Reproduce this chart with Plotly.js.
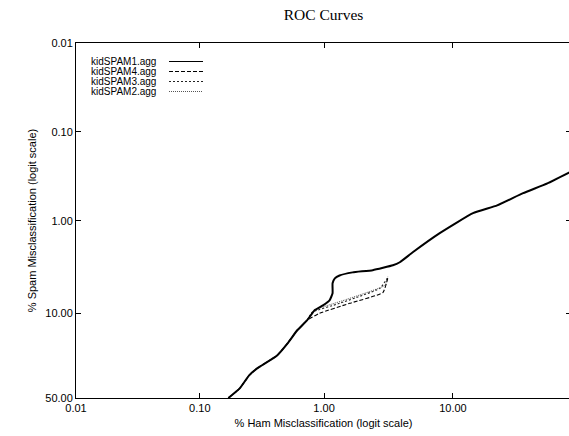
<!DOCTYPE html>
<html>
<head>
<meta charset="utf-8">
<script src="https://cdn.plot.ly/plotly-3.0.1.min.js"></script>
<style>
html,body{margin:0;padding:0;overflow:hidden;background:#fff;}
#chart{width:580px;height:436px;}
</style>
</head>
<body>
<div id="chart"></div>
<script>
// ---- data (percent values) ----
const seriesNames = ["kidSPAM1.agg", "kidSPAM4.agg", "kidSPAM3.agg", "kidSPAM2.agg"];

const lowHam  = [0.17, 0.21, 0.25, 0.29, 0.42, 0.51, 0.61, 0.73];
const lowSpam = [50, 43.8, 35.7, 31.7, 24.9, 19.5, 14.7, 11.8];

const ham1  = [0.17, 0.21, 0.25, 0.29, 0.42, 0.51, 0.61, 0.73, 0.84, 0.98, 1.11, 1.17, 1.17, 1.22, 1.33, 1.69, 2.44, 3.51, 3.97, 5.0, 8.0, 13.9, 20.2, 29.1, 39.2, 50.0];
const spam1 = [50, 43.8, 35.7, 31.7, 24.9, 19.5, 14.7, 11.8, 9.3, 8.3, 7.3, 6.2, 4.85, 4.3, 4.0, 3.7, 3.5, 3.1, 2.87, 2.23, 1.37, 0.82, 0.67, 0.49, 0.38, 0.28];

const ham4tail  = [0.92, 1.60, 2.93, 3.20];
const spam4tail = [10.0, 7.9, 6.1, 4.3];
const ham3tail  = [0.80, 1.33, 2.77, 3.20];
const spam3tail = [9.8, 7.9, 5.5, 4.2];
const ham2tail  = [0.84, 1.46, 3.04, 3.20];
const spam2tail = [9.3, 7.3, 5.1, 4.1];

const tickPercents = [0.01, 0.1, 1, 10, 50];
const xTickLabels = ["0.01", "0.10", "1.00", "10.00", "50.00"];
const yTickLabels = ["0.01", "0.10", "1.00", "10.00", "50.00"];

// ---- helpers ----
const logit = p => Math.log((p / 100) / (1 - p / 100));
const L = arr => arr.map(logit);

const ham4 = lowHam.concat(ham4tail), spam4 = lowSpam.concat(spam4tail);
const ham3 = lowHam.concat(ham3tail), spam3 = lowSpam.concat(spam3tail);
const ham2 = lowHam.concat(ham2tail), spam2 = lowSpam.concat(spam2tail);

const styles = [
  {color: "#000000", width: 2.0, dash: "solid"},
  {color: "#000000", width: 1.1, dash: "4px,2px"},
  {color: "#222222", width: 1.1, dash: "2px,2px"},
  {color: "#555555", width: 1.0, dash: "1px,1px"}
];
const xs = [ham1, ham4, ham3, ham2];
const ys = [spam1, spam4, spam3, spam2];

// draw dashed ones first, main on top
const order = [3, 2, 1, 0];
const traces = order.map(i => ({
  x: L(xs[i]), y: L(ys[i]), type: "scatter", mode: "lines",
  name: seriesNames[i], showlegend: false,
  line: {color: styles[i].color, width: styles[i].width, dash: styles[i].dash, shape: "spline", smoothing: 0.4},
  hoverinfo: "skip"
}));

// ---- manual gnuplot-style legend (text left, sample right) ----
const plotL = 76, plotW = 495, plotB = 398, plotH = 355;
const px2x = px => (px - plotL) / plotW;
const py2y = py => (plotB - py) / plotH;
const legendRows = [61.5, 71.5, 81.5, 91.5];
const annotations = [], shapes = [];
seriesNames.forEach((n, i) => {
  annotations.push({
    text: n, xref: "paper", yref: "paper", x: px2x(89), y: py2y(legendRows[i]),
    xanchor: "left", yanchor: "middle", showarrow: false,
    font: {family: "Liberation Sans, Arial, sans-serif", size: 10, color: "#000"}
  });
  shapes.push({
    type: "line", xref: "paper", yref: "paper",
    x0: px2x(169), x1: px2x(203), y0: py2y(legendRows[i]), y1: py2y(legendRows[i]),
    line: {color: styles[i].color, width: 1, dash: styles[i].dash}
  });
});

const tickFont = {family: "Liberation Sans, Arial, sans-serif", size: 11, color: "#000"};

const layout = {
  width: 580, height: 436,
  margin: {l: 76, r: 9, t: 43, b: 38},
  paper_bgcolor: "#fff", plot_bgcolor: "#fff",
  showlegend: false,
  title: {
    text: "ROC Curves", x: 0.5, xref: "paper", xanchor: "center",
    y: 1 - 15 / 436, yref: "container", yanchor: "middle",
    font: {family: "Liberation Serif, Times New Roman, serif", size: 15.5, color: "#000"}
  },
  xaxis: {
    range: [logit(0.01), logit(50)],
    tickvals: L(tickPercents), ticktext: xTickLabels,
    ticks: "inside", ticklen: 5, tickwidth: 1, tickcolor: "#000",
    showline: true, linecolor: "#000", linewidth: 1, mirror: "ticks",
    showgrid: false, zeroline: false, tickfont: tickFont,
    title: {text: "% Ham Misclassification (logit scale)", font: tickFont, standoff: 6}
  },
  yaxis: {
    range: [logit(50), logit(0.01)],
    tickvals: L(tickPercents), ticktext: yTickLabels,
    ticks: "inside", ticklen: 5, tickwidth: 1, tickcolor: "#000",
    showline: true, linecolor: "#000", linewidth: 1, mirror: "ticks",
    showgrid: false, zeroline: false, tickfont: tickFont,
    title: {text: "% Spam Misclassification (logit scale)", font: tickFont, standoff: 6}
  },
  annotations: annotations,
  shapes: shapes
};

Plotly.newPlot("chart", traces, layout, {staticPlot: true, displayModeBar: false});
</script>
</body>
</html>
